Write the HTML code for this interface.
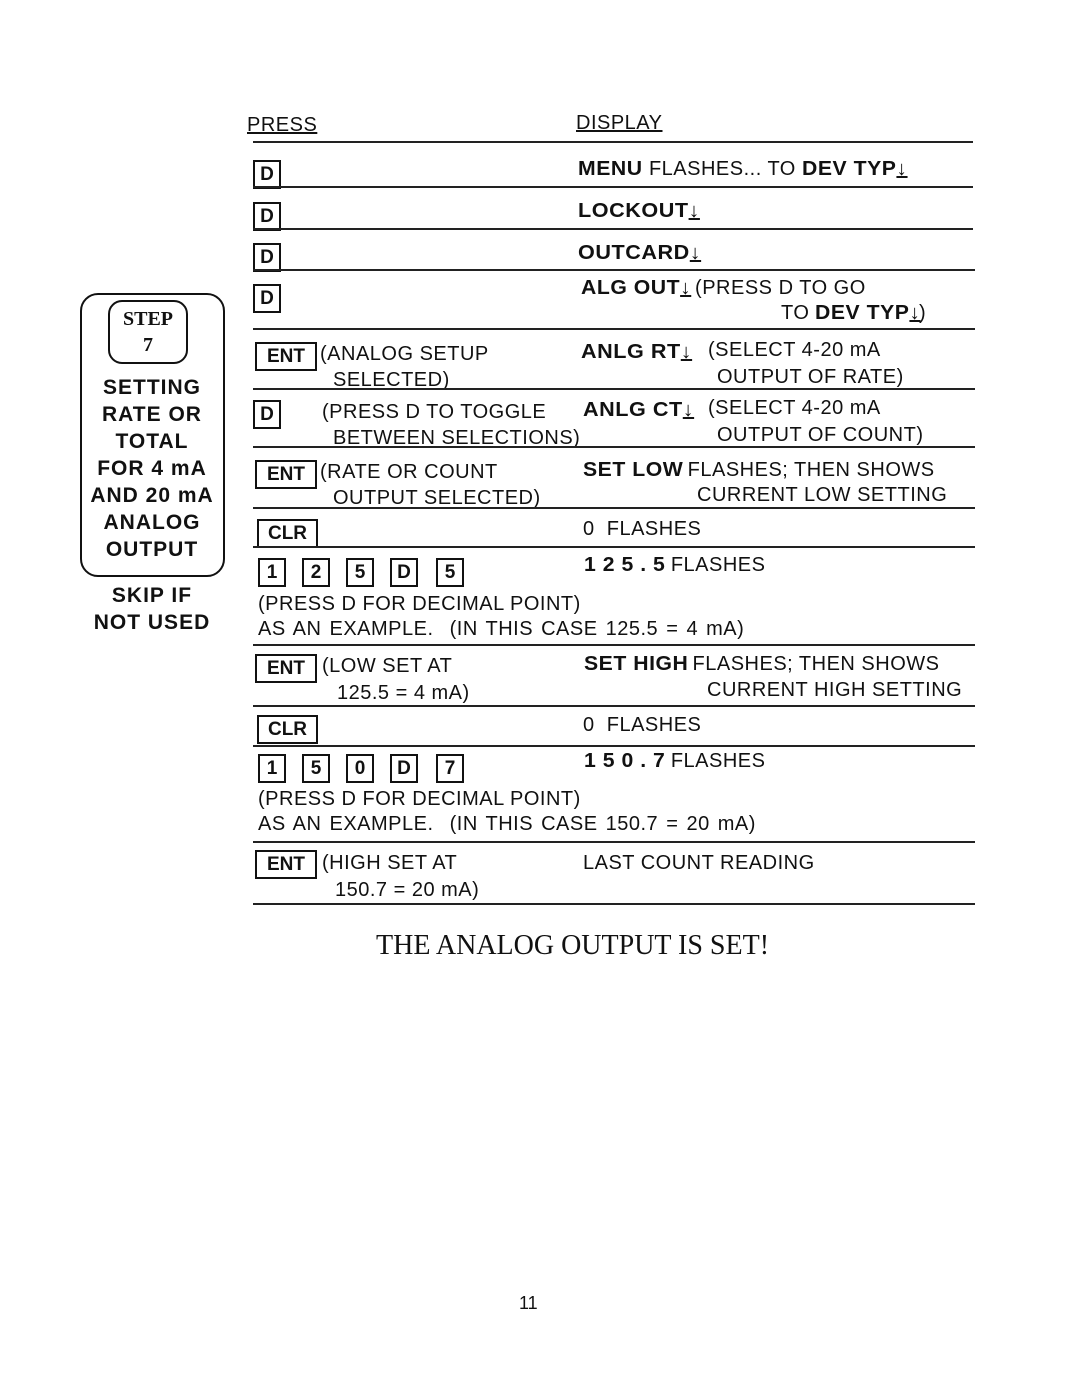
<!DOCTYPE html>
<html><head><meta charset="utf-8"><style>
body{margin:0;background:#fff;width:1080px;height:1397px;position:relative;overflow:hidden;font-family:"Liberation Sans",sans-serif;color:#111}
.t{position:absolute;font-size:20px;line-height:22px;white-space:nowrap;letter-spacing:0.5px}
.t b{display:inline-block;transform:scaleX(1.06);transform-origin:left top;margin-right:4px}
.b{font-weight:bold;transform:scaleX(1.08);transform-origin:left top}
.w{word-spacing:2px}
.k{position:absolute;border:2px solid #111;height:25px;font-size:19px;font-weight:bold;line-height:25px;text-align:center;box-sizing:content-box}
.l{position:absolute;height:2px;background:#222}
.c{position:absolute;font-weight:bold;font-size:21px;width:150px;text-align:center;left:77px;letter-spacing:1px}
</style></head><body>
<div class="t" style="left:247px;top:114px;text-decoration:underline">PRESS</div>
<div class="t" style="left:576px;top:112px;text-decoration:underline">DISPLAY</div>
<div class="l" style="left:253px;top:141px;width:720px"></div>

<div class="k" style="left:253px;top:160px;width:24px">D</div>
<div class="t" style="left:578px;top:158px"><b>MENU</b> FLASHES... TO <b>DEV TYP<u>↓</u></b></div>
<div class="l" style="left:253px;top:186px;width:720px"></div>

<div class="k" style="left:253px;top:202px;width:24px">D</div>
<div class="t b" style="left:578px;top:200px">LOCKOUT<u>↓</u></div>
<div class="l" style="left:253px;top:228px;width:720px"></div>

<div class="k" style="left:253px;top:243px;width:24px">D</div>
<div class="t b" style="left:578px;top:242px">OUTCARD<u>↓</u></div>
<div class="l" style="left:253px;top:269px;width:722px"></div>

<div class="k" style="left:253px;top:284px;width:24px">D</div>
<div class="t" style="left:581px;top:277px"><b>ALG OUT<u>↓</u></b> (PRESS D TO GO</div>
<div class="t" style="left:781px;top:302px">TO <b>DEV TYP<u>↓</u></b>)</div>
<div class="l" style="left:253px;top:328px;width:722px"></div>

<div class="k" style="left:255px;top:342px;width:58px">ENT</div>
<div class="t" style="left:320px;top:343px">(ANALOG SETUP</div>
<div class="t" style="left:333px;top:369px">SELECTED)</div>
<div class="t b" style="left:581px;top:341px">ANLG RT<u>↓</u></div>
<div class="t" style="left:708px;top:339px">(SELECT 4-20 mA</div>
<div class="t" style="left:717px;top:366px">OUTPUT OF RATE)</div>
<div class="l" style="left:253px;top:388px;width:722px"></div>

<div class="k" style="left:253px;top:400px;width:24px">D</div>
<div class="t" style="left:322px;top:401px">(PRESS D TO TOGGLE</div>
<div class="t" style="left:333px;top:427px">BETWEEN SELECTIONS)</div>
<div class="t b" style="left:583px;top:399px">ANLG CT<u>↓</u></div>
<div class="t" style="left:708px;top:397px">(SELECT 4-20 mA</div>
<div class="t" style="left:717px;top:424px">OUTPUT OF COUNT)</div>
<div class="l" style="left:253px;top:446px;width:722px"></div>

<div class="k" style="left:255px;top:460px;width:58px">ENT</div>
<div class="t" style="left:320px;top:461px">(RATE OR COUNT</div>
<div class="t" style="left:333px;top:487px">OUTPUT SELECTED)</div>
<div class="t" style="left:583px;top:459px"><b>SET LOW</b> FLASHES; THEN SHOWS</div>
<div class="t" style="left:697px;top:484px">CURRENT LOW SETTING</div>
<div class="l" style="left:253px;top:507px;width:722px"></div>

<div class="k" style="left:257px;top:519px;width:57px">CLR</div>
<div class="t" style="left:583px;top:518px">0&nbsp; FLASHES</div>
<div class="l" style="left:253px;top:546px;width:722px"></div>

<div class="k" style="left:258px;top:558px;width:24px">1</div>
<div class="k" style="left:302px;top:558px;width:24px">2</div>
<div class="k" style="left:346px;top:558px;width:24px">5</div>
<div class="k" style="left:390px;top:558px;width:24px">D</div>
<div class="k" style="left:436px;top:558px;width:24px">5</div>
<div class="t" style="left:584px;top:554px"><b>1 2 5 . 5</b> FLASHES</div>
<div class="t" style="left:258px;top:593px">(PRESS D FOR DECIMAL POINT)</div>
<div class="t w" style="left:258px;top:618px">AS AN EXAMPLE.&nbsp; (IN THIS CASE 125.5 = 4 mA)</div>
<div class="l" style="left:253px;top:644px;width:722px"></div>

<div class="k" style="left:255px;top:654px;width:58px">ENT</div>
<div class="t" style="left:322px;top:655px">(LOW SET AT</div>
<div class="t" style="left:337px;top:682px">125.5 = 4 mA)</div>
<div class="t" style="left:584px;top:653px"><b>SET HIGH</b> FLASHES; THEN SHOWS</div>
<div class="t" style="left:707px;top:679px">CURRENT HIGH SETTING</div>
<div class="l" style="left:253px;top:705px;width:722px"></div>

<div class="k" style="left:257px;top:715px;width:57px">CLR</div>
<div class="t" style="left:583px;top:714px">0&nbsp; FLASHES</div>
<div class="l" style="left:253px;top:745px;width:722px"></div>

<div class="k" style="left:258px;top:754px;width:24px">1</div>
<div class="k" style="left:302px;top:754px;width:24px">5</div>
<div class="k" style="left:346px;top:754px;width:24px">0</div>
<div class="k" style="left:390px;top:754px;width:24px">D</div>
<div class="k" style="left:436px;top:754px;width:24px">7</div>
<div class="t" style="left:584px;top:750px"><b>1 5 0 . 7</b> FLASHES</div>
<div class="t" style="left:258px;top:788px">(PRESS D FOR DECIMAL POINT)</div>
<div class="t w" style="left:258px;top:813px">AS AN EXAMPLE.&nbsp; (IN THIS CASE 150.7 = 20 mA)</div>
<div class="l" style="left:253px;top:841px;width:722px"></div>

<div class="k" style="left:255px;top:850px;width:58px">ENT</div>
<div class="t" style="left:322px;top:852px">(HIGH SET AT</div>
<div class="t" style="left:335px;top:879px">150.7 = 20 mA)</div>
<div class="t" style="left:583px;top:852px">LAST COUNT READING</div>
<div class="l" style="left:253px;top:903px;width:722px"></div>

<!-- sidebar -->
<div style="position:absolute;left:80px;top:293px;width:141px;height:280px;border:2px solid #111;border-radius:18px"></div>
<div style="position:absolute;left:108px;top:300px;width:80px;height:64px;border:2px solid #111;border-radius:14px;text-align:center;font-family:'Liberation Serif',serif;font-weight:bold;font-size:20px;line-height:26px;padding-top:4px;box-sizing:border-box">STEP<br>7</div>
<div class="c" style="top:376px">SETTING</div>
<div class="c" style="top:403px">RATE OR</div>
<div class="c" style="top:430px">TOTAL</div>
<div class="c" style="top:457px">FOR 4 mA</div>
<div class="c" style="top:484px">AND 20 mA</div>
<div class="c" style="top:511px">ANALOG</div>
<div class="c" style="top:538px">OUTPUT</div>
<div class="c" style="top:584px">SKIP IF</div>
<div class="c" style="top:611px">NOT USED</div>

<div style="position:absolute;left:376px;top:930px;font-family:'Liberation Serif',serif;font-size:28px;white-space:nowrap">THE ANALOG OUTPUT IS SET!</div>
<div style="position:absolute;left:519px;top:1293px;font-size:18px">11</div>
</body></html>
